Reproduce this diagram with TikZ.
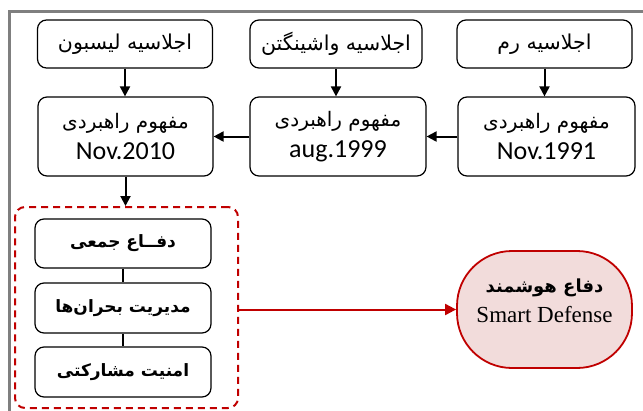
\documentclass[tikz,border=0pt]{standalone}
\usepackage{fontspec}
\setmainfont{Carlito}
\newfontfamily\fa[Script=Arabic]{DejaVu Sans}
\newfontfamily\tnr{Liberation Serif}
\TeXXeTstate=1
\usetikzlibrary{arrows.meta}
\definecolor{framegray}{HTML}{7F7F7F}
\definecolor{dred}{HTML}{C00000}
\definecolor{pinkfill}{HTML}{F2DCDB}
\newcommand{\latn}[1]{{\fontspec{Carlito}\fontsize{26}{28}\selectfont #1}}
\begin{document}
\begin{tikzpicture}[x=1pt,y=-1pt,
  box/.style={draw=black, line width=1.2pt, rounded corners=9pt, fill=white,
    minimum width=175pt, minimum height=48pt, inner sep=0pt, align=center,
    font=\fa\fontsize{20.5}{22}\selectfont},
  bigbox/.style={box, minimum height=79pt, font=\fa\fontsize{20}{22}\selectfont},
  inbox/.style={box, minimum width=176pt, minimum height=49pt,
    font=\fa\bfseries\fontsize{17}{20}\selectfont},
  arr/.style={-{Triangle[length=10pt,width=10pt]}, line width=2pt}
]
\useasboundingbox (0,0) rectangle (643,410);
\draw[framegray, line width=3pt] (9,411) -- (9,11) -- (644,11);

% top row
\node[box] (lis) at (125,44) {\beginR اجلاسیه لیسبون\endR};
\node[box, minimum width=172pt] (was) at (336,44) {\beginR اجلاسیه واشینگتن\endR};
\node[box] (rom) at (544.5,44) {\beginR اجلاسیه رم\endR};

% second row
\node[bigbox] (n10) at (125.5,136.5) {\beginR مفهوم راهبردی\endR\\[9pt]\latn{Nov.2010}};
\node[bigbox, minimum width=176pt] (n99) at (338,136.5) {\beginR مفهوم راهبردی\endR\\[9pt]\latn{aug.1999}};
\node[bigbox, minimum width=177pt] (n91) at (546.5,136.5) {\beginR مفهوم راهبردی\endR\\[9pt]\latn{Nov.1991}};

% group
\node[draw=dred, line width=2pt, dash pattern=on 7pt off 5pt, rounded corners=10pt,
  minimum width=223pt, minimum height=201pt, inner sep=0pt] (grp) at (126.5,307.5) {};
\node[inbox] (b1) at (123,243.5) {\beginR دفــاع جمعی\endR};
\node[inbox, minimum height=50pt] (b2) at (123,308) {\beginR مدیریت بحران‌ها\endR};
\node[inbox, minimum height=50pt] (b3) at (123,372) {\beginR امنیت مشارکتی\endR};

% smart defense
\node[draw=dred, line width=1.8pt, fill=pinkfill, rounded corners=55pt,
  minimum width=175pt, minimum height=117pt, inner sep=0pt, align=center] (sd) at (544.5,309.5)
  {{\fa\bfseries\fontsize{18}{20}\selectfont\beginR دفاع هوشمند\endR}\\[8pt]{\tnr\fontsize{23}{26}\selectfont Smart Defense}\\[6pt]};

% connectors
\draw[arr] (lis.south) -- (lis.south |- n10.north);
\draw[arr] (was.south) -- (was.south |- n99.north);
\draw[arr] (rom.south) -- (rom.south |- n91.north);
\draw[arr] (n91.west) -- (n99.east);
\draw[arr] (n99.west) -- (n10.east);
\draw[arr] (n10.south) -- (n10.south |- grp.north);
\draw[line width=1.2pt] (b1.south) -- (b2.north);
\draw[line width=1.2pt] (b2.south) -- (b3.north);
\draw[dred, line width=2pt, -{Triangle[length=11pt,width=11pt]}] (grp.east |- sd.west) -- (sd.west);
\end{tikzpicture}
\end{document}
